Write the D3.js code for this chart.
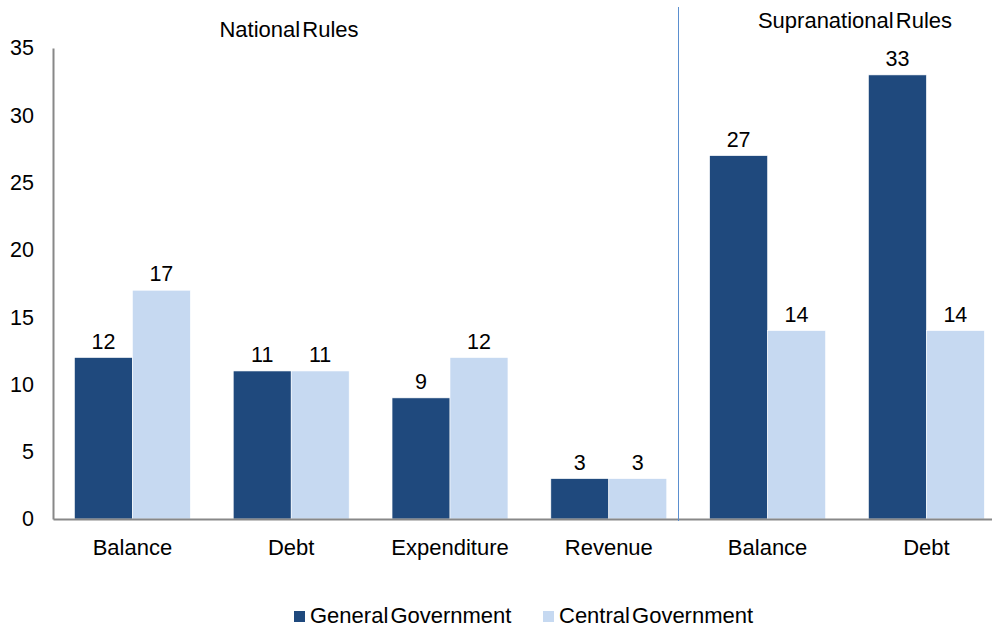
<!DOCTYPE html>
<html>
<head>
<meta charset="utf-8">
<script src="https://cdn.jsdelivr.net/npm/d3@7"></script>
<style>
  html, body { margin: 0; padding: 0; background: #fff; }
  svg { display: block; font-family: "Liberation Sans", Arial, sans-serif; }
</style>
</head>
<body>
<svg id="chart" width="992" height="633"></svg>
<script>
// Number of countries with each fiscal rule type
const categories = ["Balance", "Debt", "Expenditure", "Revenue", "Balance", "Debt"];
const generalGov = [12, 11, 9, 3, 27, 33];
const centralGov = [17, 11, 12, 3, 14, 14];
const seriesNames = ["General Government", "Central Government"];
const yTicks = [0, 5, 10, 15, 20, 25, 30, 35];
const sectionTitles = ["National Rules", "Supranational Rules"];

const colors = ["#1f497d", "#c6d9f1"];
const font = "Liberation Sans, Arial, sans-serif";

const svg = d3.select("#chart");
const left = 53, y0 = 519, yTop = 48;

const x = d3.scaleBand()
  .domain(d3.range(categories.length))
  .range([left, left + 6 * 158.8])
  .paddingInner(0.27)
  .paddingOuter(0.135);

const xs = d3.scaleBand().domain([0, 1]).range([0, x.bandwidth()]);

const y = d3.scaleLinear().domain([0, 35]).range([y0, yTop]);

const rows = categories.map((c, i) => ({ i, vals: [generalGov[i], centralGov[i]] }));

const groups = svg.append("g").selectAll("g")
  .data(rows).join("g")
  .attr("transform", d => `translate(${x(d.i)},0)`);

groups.selectAll("rect")
  .data(d => d.vals.map((v, k) => ({ v, k })))
  .join("rect")
  .attr("x", d => xs(d.k))
  .attr("width", xs.bandwidth())
  .attr("y", d => y(d.v))
  .attr("height", d => y0 - y(d.v))
  .attr("fill", d => colors[d.k])
  .attr("stroke", "#fff")
  .attr("stroke-width", 0.6);

groups.selectAll("text.val")
  .data(d => d.vals.map((v, k) => ({ v, k })))
  .join("text")
  .attr("class", "val")
  .attr("x", d => xs(d.k) + xs.bandwidth() / 2)
  .attr("y", d => y(d.v) - 9)
  .attr("text-anchor", "middle")
  .attr("font-size", 21.5)
  .attr("fill", "#000")
  .text(d => d.v);

// Y axis
const yAxis = d3.axisLeft(y).tickValues(yTicks).tickSize(0).tickPadding(19);
const gy = svg.append("g").attr("transform", `translate(${left},0)`).call(yAxis);
gy.select(".domain").attr("stroke", "#888").attr("stroke-width", 2);
gy.selectAll("text").attr("font-size", 21.5).attr("fill", "#000").attr("font-family", font);

// X axis
const xAxis = d3.axisBottom(x).tickSize(0).tickPadding(20).tickFormat(i => categories[i]);
const gx = svg.append("g").attr("transform", `translate(0,${y0})`).call(xAxis);
gx.select(".domain").attr("stroke", "#888").attr("stroke-width", 2);
gx.selectAll("text").attr("font-size", 22).attr("fill", "#000").attr("font-family", font);

// Separator between national and supranational rules
const sepX = Math.round(x(3) + x.bandwidth() + 11) + 0.5;
svg.append("line")
  .attr("x1", sepX).attr("x2", sepX)
  .attr("y1", 7).attr("y2", y0 + 2)
  .attr("stroke", "#5b8fcf").attr("stroke-width", 1);

// Section titles
svg.append("text").attr("x", 289).attr("y", 37).attr("text-anchor", "middle")
  .attr("font-size", 22).attr("word-spacing", -4).text(sectionTitles[0]);
svg.append("text").attr("x", 855).attr("y", 28).attr("text-anchor", "middle")
  .attr("font-size", 22).attr("word-spacing", -4).text(sectionTitles[1]);

// Legend
const legendPos = [294, 543];
const lg = svg.append("g").selectAll("g").data(seriesNames).join("g")
  .attr("transform", (d, i) => `translate(${legendPos[i]},611)`);
lg.append("rect").attr("width", 11).attr("height", 11).attr("fill", (d, i) => colors[i]);
lg.append("text").attr("x", 16).attr("y", 12).attr("font-size", 22)
  .attr("word-spacing", -4).text(d => d);
</script>
</body>
</html>
